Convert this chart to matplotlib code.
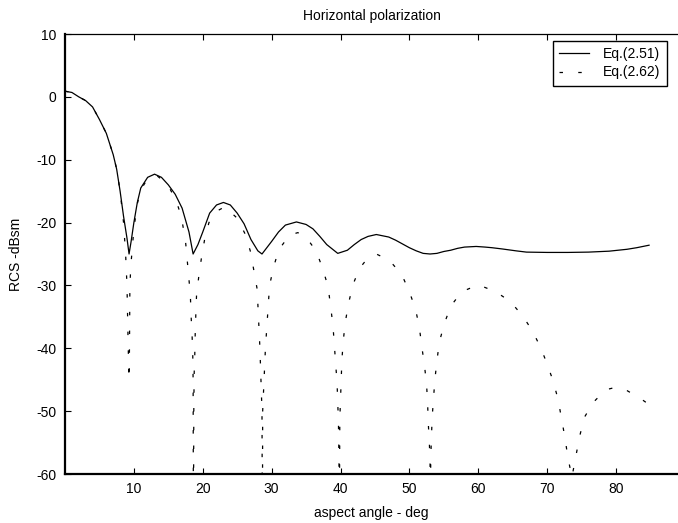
import matplotlib
matplotlib.use("Agg")
import matplotlib.pyplot as plt

plt.rcParams['font.family'] = ['Liberation Sans', 'DejaVu Sans']
plt.rcParams['lines.scale_dashes'] = False
plt.rcParams['axes.unicode_minus'] = False

# Eq.(2.51) - solid curve
ang_251 = [0, 1, 2, 3, 4, 5, 6, 7, 7.5, 8, 8.5, 9.0, 9.3, 9.6, 10, 10.5, 11, 12, 13,
           14, 15, 16, 17, 18, 18.6, 19.3, 20, 21, 22, 23, 24, 25, 26, 27, 28, 28.6,
           29.3, 30, 31, 32, 33.6, 35, 36, 37, 38, 39.6, 41, 42, 43, 44, 45.2, 47, 48,
           49, 50, 51, 52, 53, 54, 55, 56, 57, 58, 59.7, 61, 62, 63.5, 65.5, 67, 70,
           73, 76, 79, 81.6, 83, 84.8]
rcs_251 = [0.9, 0.7, 0.0, -0.6, -1.6, -3.6, -5.8, -9.2, -11.5, -15, -19, -22.5, -25, -23, -20,
           -16.8, -14.5, -12.8, -12.3, -12.8, -14.0, -15.5, -17.7, -21.5, -25, -23.5, -21.5,
           -18.5, -17.2, -16.8, -17.2, -18.5, -20.2, -22.7, -24.5, -25, -24, -23, -21.5,
           -20.4, -19.9, -20.3, -21.0, -22.2, -23.5, -24.9, -24.4, -23.5, -22.7, -22.2,
           -21.9, -22.3, -22.8, -23.4, -24.0, -24.5, -24.9, -25.0, -24.9, -24.6, -24.4,
           -24.1, -23.9, -23.8, -23.9, -24.0, -24.2, -24.5, -24.7, -24.75, -24.75, -24.7,
           -24.55, -24.25, -24.0, -23.6]

# Eq.(2.62) - dashed curve
ang_262 = [0, 1, 2, 3, 4, 5, 6, 7, 7.5, 8, 8.5, 8.8, 9.0, 9.18, 9.3, 9.36, 9.42, 9.57, 10,
           10.5, 11, 12, 13.3, 14.9, 16.2, 16.9, 17.5, 17.97, 18.2, 18.3, 18.45, 18.55,
           18.6, 18.65, 18.7, 18.75, 18.84, 18.9, 18.99, 19.1, 19.42, 19.8, 20.3, 20.9,
           22, 23.2, 25.0, 26.1, 26.9, 27.4, 27.9, 28.3, 28.6, 28.66, 28.7, 29.1, 29.7,
           30.3, 31.05, 32.6, 33.8, 35.0, 36.5, 37.4, 38.2, 38.55, 38.9, 39.1, 39.3, 39.5,
           39.6, 39.7, 39.78, 39.82, 39.9, 40.0, 40.2, 40.4, 40.7, 41.2, 41.8, 42.75, 43.7,
           45.2, 47.1, 48.9, 50.0, 50.9, 51.45, 51.8, 52.2, 52.5, 52.65, 52.75, 52.9, 53.0,
           53.05, 53.1, 53.2, 53.3, 53.5, 53.7, 54.0, 54.35, 55.1, 56.0, 57.6, 60.0, 62.55,
           64.7, 66.55, 67.95, 69.1, 70.0, 70.9, 71.6, 72.1, 72.6, 73.0, 73.6, 74.2, 74.7,
           75.4, 76.7, 78.5, 80.0, 81.25, 83.7, 84.6]
rcs_262 = [0.9, 0.7, 0.0, -0.6, -1.6, -3.6, -5.8, -9.2, -11.5, -15, -20, -25, -30, -40, -45,
           -40, -30, -26.7, -21, -17, -14.8, -13, -12.5, -13.9, -16.7, -19.1, -23, -28.6,
           -31.5, -34.7, -37.9, -41.1, -45, -70, -50, -44.2, -41.1, -37.9, -34.7, -31.5,
           -28.6, -25.7, -22.5, -20, -18.2, -17.5, -19.3, -21.7, -24.5, -27.5, -30.6, -40,
           -50, -70, -50, -40, -30, -27.0, -24.3, -22.0, -21.6, -22.3, -24.6, -27.3, -30.2,
           -33.3, -36.3, -39.5, -42.5, -45.5, -48.6, -51.8, -58, -70, -51.3, -48.1, -41.9,
           -38.8, -35.8, -32.7, -29.9, -27.3, -26.0, -25.0, -26.0, -28.3, -31.0, -33.8,
           -36.7, -39.7, -42.8, -45.8, -48.9, -52.0, -55.1, -58, -70, -57.5, -54.3, -51.1,
           -48.1, -45.0, -42.0, -39.0, -36.0, -33.3, -31.0, -29.9, -31.0, -32.6, -35.0,
           -37.4, -40.0, -42.5, -45.3, -48.2, -51.3, -54.3, -57.3, -60.5, -57.0, -54.1,
           -51.0, -48.6, -46.6, -46.2, -46.5, -48.1, -48.8]

xticks = [10, 20, 30, 40, 50, 60, 70, 80]
yticks = [-60, -50, -40, -30, -20, -10, 0, 10]

fig = plt.figure(figsize=(6.78, 5.23), dpi=100)
ax = fig.add_axes([65 / 678, 49 / 523, 613 / 678, 440 / 523])

ax.plot(ang_251, rcs_251, color='black', linewidth=0.9, label='Eq.(2.51)')
ax.plot(ang_262, rcs_262, color='black', linewidth=0.9, dashes=(2.5, 11), label='Eq.(2.62)')

ax.set_xlim(0, 89)
ax.set_ylim(-60, 10)
ax.set_xticks(xticks)
ax.set_yticks(yticks)
ax.tick_params(direction='in', length=4, width=0.8, labelsize=10, top=True, right=False, pad=6)

ax.spines['right'].set_visible(False)
ax.spines['left'].set_linewidth(1.6)
ax.spines['bottom'].set_linewidth(1.6)
ax.spines['top'].set_linewidth(0.9)

ax.set_title('Horizontal polarization', fontsize=10, pad=10)
ax.set_xlabel('aspect angle - deg', fontsize=10, labelpad=7)
ax.set_ylabel('RCS -dBsm', fontsize=10, labelpad=10)

leg = ax.legend(loc='upper right', bbox_to_anchor=(0.982, 0.984), fontsize=10,
                fancybox=False, framealpha=1, edgecolor='black', handlelength=2.2,
                handletextpad=1.0, borderpad=0.45, labelspacing=0.3, borderaxespad=0)
leg.get_frame().set_linewidth(1.0)

fig.savefig('out.png', dpi=100)
